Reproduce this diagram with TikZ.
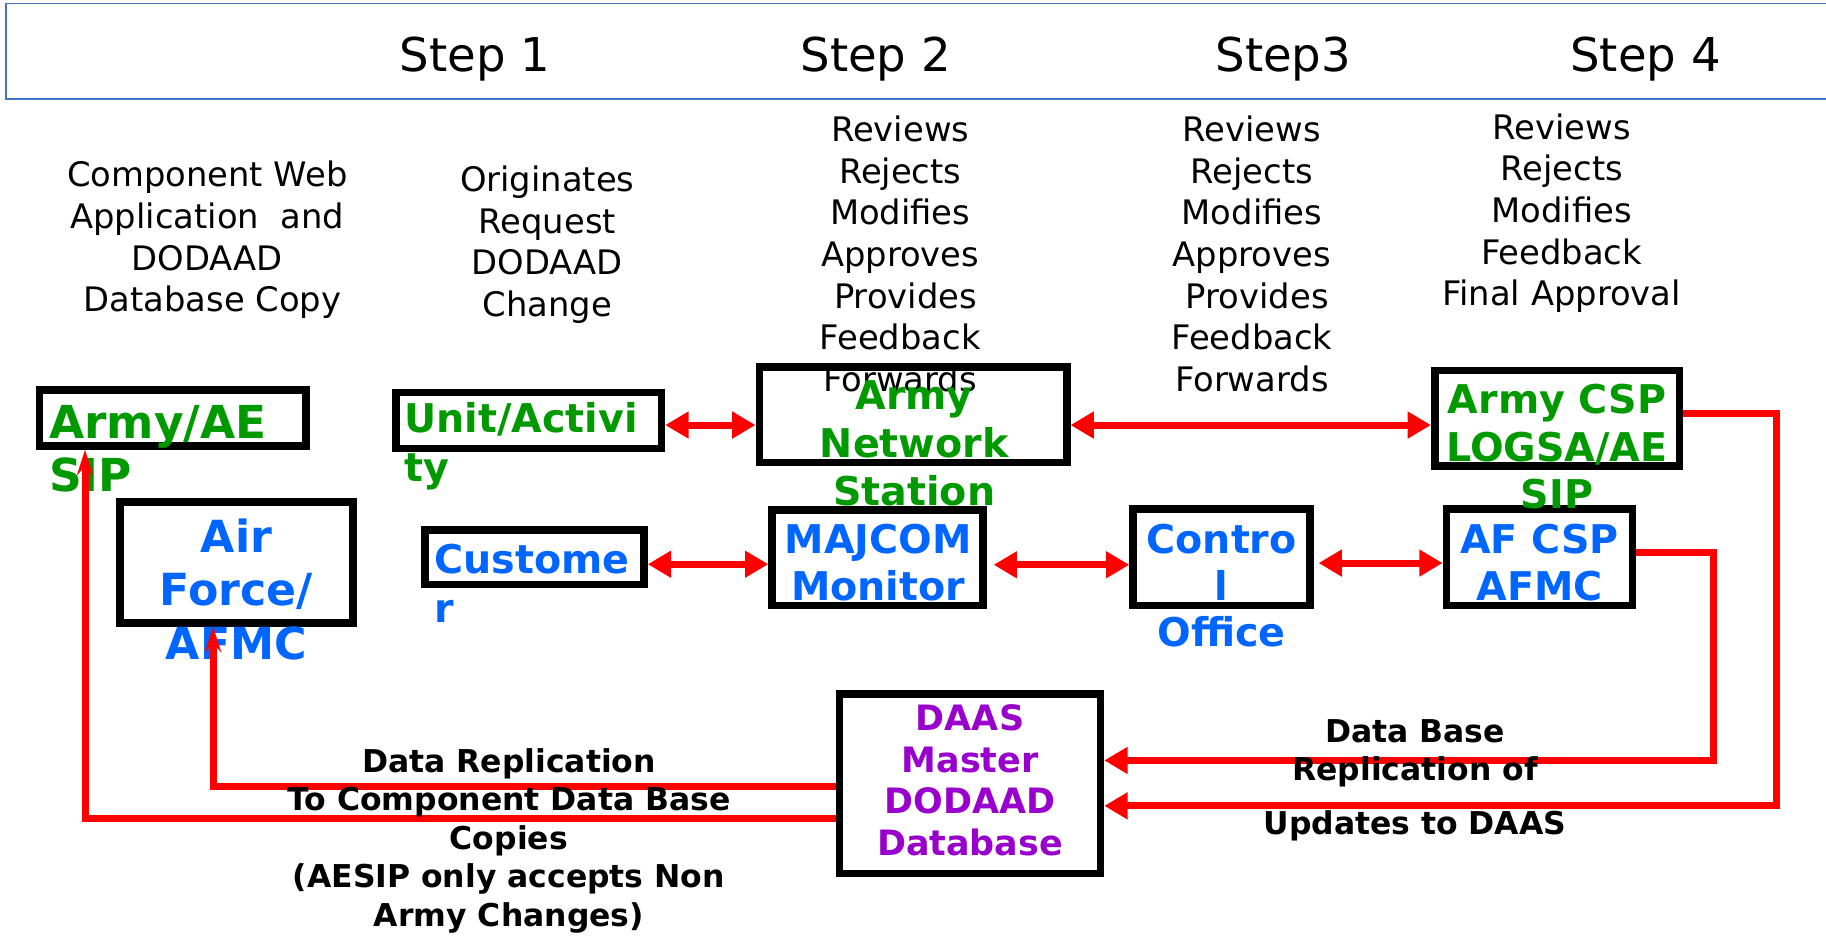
\documentclass[tikz,border=0pt]{standalone}
\usepackage{fontspec}
\setmainfont{DejaVu Sans}
\usetikzlibrary{arrows.meta}
\definecolor{armygreen}{RGB}{0,153,0}
\definecolor{afblue}{RGB}{0,102,255}
\definecolor{daaspurple}{RGB}{153,0,204}
\definecolor{frameblue}{RGB}{68,114,196}
\newcommand\myfs[2]{\fontsize{#1}{#2}\selectfont}
\begin{document}
\begin{tikzpicture}[x=1pt,y=-1pt,
  box/.style={draw=black, line width=6.5pt, inner sep=0pt},
  desc/.style={align=center, inner sep=0pt, font=\myfs{29}{35.8}},
  steplbl/.style={inner sep=0pt, font=\myfs{40}{48}},
  gtext/.style={inner sep=0pt, text=armygreen, font=\bfseries\myfs{34}{41}},
  btext/.style={inner sep=0pt, text=afblue, font=\bfseries\myfs{34}{40}},
  lbl/.style={inner sep=0pt, align=center, font=\bfseries\myfs{27}{33}},
  link/.style={draw=red, line width=6pt},
  tip/.tip={Triangle[length=20pt,width=22pt]},
  thintip/.tip={Stealth[length=22pt,width=14pt,inset=8pt]}
]
\useasboundingbox (0,0) rectangle (1568,805);
% header frame
\draw[frameblue, line width=1.5pt] (5,3) rectangle (1580,85);
\node[steplbl] (s1) at (408,51) {Step 1};
\node[steplbl] (s2) at (752,51) {Step 2};
\node[steplbl] (s3) at (1102,51) {Step3};
\node[steplbl] (s4) at (1413,51) {Step 4};

% descriptions
\node[desc] (d1) at (178,206) {Component Web\\Application~ and\\DODAAD\\~Database Copy};
\node[desc] (d2) at (470,210) {Originates\\Request\\DODAAD\\Change};
\node[desc] (d3) at (773,218) {Reviews\\Rejects\\Modifies\\Approves\\~Provides\\Feedback\\Forwards};
\node[desc] (d4) at (1075,218) {Reviews\\Rejects\\Modifies\\Approves\\~Provides\\Feedback\\Forwards};
\node[desc] (d5) at (1341,183) {Reviews\\Rejects\\Modifies\\Feedback\\Final Approval};

% boxes
\node[box, minimum width=229pt, minimum height=48pt] (armyae) at (148.5,359) {};
\node[box, minimum width=228pt, minimum height=48pt] (unit) at (454,361) {};
\node[box, minimum width=264pt, minimum height=82pt] (armynet) at (784,356) {};
\node[box, minimum width=210pt, minimum height=82pt] (armycsp) at (1337,359) {};
\node[box, minimum width=200pt, minimum height=104pt] (airforce) at (203,483) {};
\node[box, minimum width=188pt, minimum height=47pt] (customer) at (459,478.5) {};
\node[box, minimum width=181pt, minimum height=82pt] (majcom) at (753.5,479) {};
\node[box, minimum width=152pt, minimum height=83pt] (control) at (1049,478.5) {};
\node[box, minimum width=160pt, minimum height=83pt] (afcsp) at (1322,478.5) {};
\node[box, minimum width=224pt, minimum height=154pt] (daas) at (833,673) {};

% box texts
\node[gtext, align=left, anchor=west, font=\bfseries\myfs{39}{45}] (tarmyae) at (42,385.5) {Army/AE\\SIP};
\node[gtext, align=left, anchor=west, font=\bfseries\myfs{34}{42}] (tunit) at (347,383) {Unit/Activi\\ty};
\node[gtext, align=center] (tarmynet) at (785,380.5) {Army\\Network\\Station};
\node[gtext, align=center] (tarmycsp) at (1337,383.5) {Army CSP\\LOGSA/AE\\SIP};
\node[btext, align=center, font=\bfseries\myfs{38}{46}] (tairforce) at (203,506) {Air\\Force/\\AFMC};
\node[btext, align=left, anchor=west, font=\bfseries\myfs{34}{42}] (tcustomer) at (373,501) {Custome\\r};
\node[btext, align=center] (tmajcom) at (754,483) {MAJCOM\\Monitor};
\node[btext, align=center] (tcontrol) at (1049,503) {Contro\\l\\Office};
\node[btext, align=center] (tafcsp) at (1322,483) {AF CSP\\AFMC};
\node[inner sep=0pt, align=center, text=daaspurple, font=\bfseries\myfs{30}{36}] (tdaas) at (833,670) {DAAS\\Master\\DODAAD\\Database~};

% connectors
\draw[link, {tip}-{tip}] ([yshift=-4pt]unit.east) -- ([yshift=-4pt]unit.east -| armynet.west);
\draw[link, {tip}-{tip}] ([yshift=-9pt]armynet.east) -- ([yshift=-9pt]armynet.east -| armycsp.west);
\draw[link, {tip}-{tip}] ([yshift=-6pt]customer.east) -- ([yshift=-6pt]customer.east -| majcom.west);
\draw[link, {tip}-{tip}] ([xshift=6pt,yshift=-6pt]majcom.east) -- ([yshift=-6pt]majcom.east -| control.west);
\draw[link, {tip}-{tip}] ([xshift=4pt,yshift=-5pt]control.east) -- ([yshift=-5pt]control.east -| afcsp.west);

\draw[link, -{tip}] ([yshift=4pt]armycsp.east) -- ++(80,0) |- ([yshift=-19pt]daas.east);
\draw[link, -{tip}] ([yshift=4pt]afcsp.east) -- ++(66,0) |- ([yshift=20pt]daas.east);
\draw[link, -{thintip}] ([yshift=-2pt]daas.west) -| ([xshift=-20pt]airforce.south);
\draw[link, -{thintip}] ([yshift=-30pt]daas.west) -| ([xshift=-75.5pt]armyae.south);

% connector labels
\node[lbl] (lrep) at (437,722) {Data Replication\\To Component Data Base\\Copies\\(AESIP only accepts Non\\Army Changes)};
\node[lbl] (lupd1) at (1215,647) {Data Base\\Replication of};
\node[lbl] (lupd2) at (1215,709) {Updates to DAAS};
\end{tikzpicture}
\end{document}
